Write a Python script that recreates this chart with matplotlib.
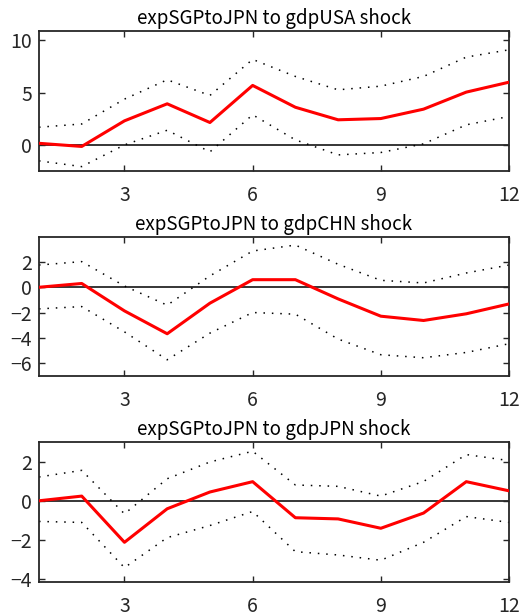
import numpy as np
import matplotlib
matplotlib.use('Agg')
import matplotlib.pyplot as plt

plt.rcParams['font.family'] = ['Noto Sans CJK JP', 'DejaVu Sans']

horizon = np.arange(1, 13)

# expSGPtoJPN to gdpUSA shock
usa_mid = [0.15, -0.15, 2.3, 3.93, 2.14, 5.69, 3.6, 2.4, 2.52, 3.42, 5.05, 6.0]
usa_up = [1.69, 2.0, 4.38, 6.23, 4.73, 8.18, 6.55, 5.27, 5.62, 6.55, 8.4, 9.1]
usa_lo = [-1.53, -2.08, 0.0, 1.4, -0.67, 2.88, 0.48, -0.96, -0.73, 0.1, 1.92, 2.72]

# expSGPtoJPN to gdpCHN shock
chn_mid = [0.0, 0.3, -1.87, -3.68, -1.26, 0.6, 0.6, -0.92, -2.29, -2.63, -2.1, -1.32]
chn_up = [1.76, 2.03, 0.1, -1.42, 0.9, 2.87, 3.34, 1.82, 0.55, 0.34, 1.13, 1.76]
chn_lo = [-1.71, -1.53, -3.53, -5.74, -3.63, -2.0, -2.13, -4.1, -5.34, -5.58, -5.16, -4.47]

# expSGPtoJPN to gdpJPN shock
jpn_mid = [0.0, 0.24, -2.13, -0.41, 0.45, 0.98, -0.87, -0.93, -1.41, -0.63, 0.98, 0.51]
jpn_up = [1.22, 1.56, -0.67, 1.13, 1.99, 2.54, 0.81, 0.74, 0.24, 0.99, 2.37, 2.06]
jpn_lo = [-1.06, -1.11, -3.43, -1.89, -1.27, -0.55, -2.61, -2.78, -3.05, -2.13, -0.81, -1.11]

titles = ['expSGPtoJPN to gdpUSA shock', 'expSGPtoJPN to gdpCHN shock',
          'expSGPtoJPN to gdpJPN shock']
panels = [(usa_mid, usa_up, usa_lo), (chn_mid, chn_up, chn_lo), (jpn_mid, jpn_up, jpn_lo)]
ylims = [(-2.5, 10.9), (-7, 4), (-4.15, 3)]
yticks = [[0, 5, 10], [-6, -4, -2, 0, 2], [-4, -2, 0, 2]]
xticks = [3, 6, 9, 12]

fig = plt.figure(figsize=(5.3, 6.16), dpi=100)
boxes = [[0.0736, 0.7224, 0.8868, 0.2273],
         [0.0736, 0.3901, 0.8868, 0.2256],
         [0.0736, 0.0557, 0.8868, 0.2263]]

edge = '#262626'
for box, title, (mid, up, lo), yl, yt in zip(boxes, titles, panels, ylims, yticks):
    ax = fig.add_axes(box)
    ax.axhline(0, color='black', lw=1.1, zorder=1)
    ax.plot(horizon, up, color='black', lw=1.1, linestyle=(0, (1, 4.5)), zorder=2)
    ax.plot(horizon, lo, color='black', lw=1.1, linestyle=(0, (1, 4.5)), zorder=2)
    ax.plot(horizon, mid, color='red', lw=2.2, zorder=3)
    ax.set_xlim(1, 12)
    ax.set_ylim(*yl)
    ax.set_xticks(xticks)
    ax.set_yticks(yt)
    ax.tick_params(direction='in', top=True, right=True, length=4, width=1,
                   color=edge, labelcolor=edge, labelsize=14)
    ax.tick_params(axis='x', pad=10)
    ax.tick_params(axis='y', pad=5)
    for s in ax.spines.values():
        s.set_color(edge)
        s.set_linewidth(1.3)
    ax.set_title(title, fontsize=13.5, pad=5, color='black')

fig.savefig('out.png', dpi=100)
